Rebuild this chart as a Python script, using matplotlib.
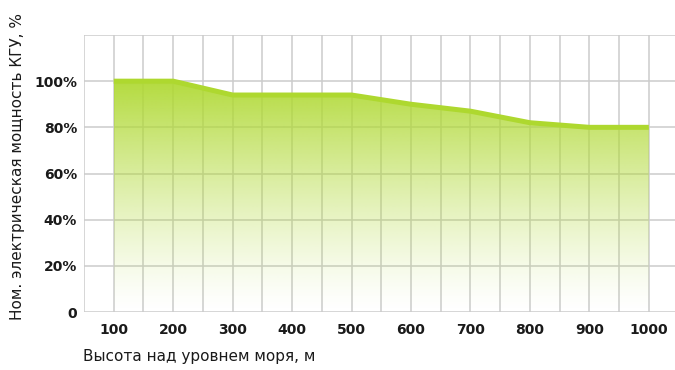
import numpy as np
import matplotlib
matplotlib.use("Agg")
import matplotlib.pyplot as plt
from matplotlib.colors import to_rgb

altitude = [100, 200, 300, 400, 500, 600, 700, 800, 900, 1000]
power_pct = [100, 100, 94, 94, 94, 90, 87, 82, 80, 80]
x_ticks = [100, 200, 300, 400, 500, 600, 700, 800, 900, 1000]
y_ticks = [0, 20, 40, 60, 80, 100]
y_tick_labels = ["0", "20%", "40%", "60%", "80%", "100%"]
x_label = "Высота над уровнем моря, м"
y_label = "Ном. электрическая мощность КГУ, %"

green = "#B0D934"
grid_c = "#CCCCCC"
text_c = "#1A1A1A"

fig = plt.figure(figsize=(6.75, 3.7), dpi=100)
W, H = 675, 370
ax = fig.add_axes([84 / W, (H - 312) / H, 1 - 84 / W, (312 - 35) / H])
ax.set_xlim(50, 1044)
ax.set_ylim(0, 120)

# grid
for gx in np.arange(50, 1045, 50):
    ax.axvline(gx, color=grid_c, lw=1.1, zorder=1)
for gy in np.arange(0, 121, 20):
    ax.axhline(gy, color=grid_c, lw=1.1, zorder=1)

# gradient fill
fill = ax.fill_between(altitude, power_pct, 0, color="none", lw=0, zorder=2)
n = 256
yy = np.linspace(0, 101, n)
alpha = np.clip(yy / 100.0, 0, 1) ** 1.3 * 0.95
rgb = np.array(to_rgb(green))
img = np.zeros((n, 1, 4))
img[:, 0, :3] = rgb
img[:, 0, 3] = alpha
im = ax.imshow(img, extent=[altitude[0], altitude[-1], 0, 101], origin="lower",
               aspect="auto", zorder=2, interpolation="bilinear")
path = fill.get_paths()[0]
im.set_clip_path(path, transform=ax.transData)

ax.plot(altitude, power_pct, color="#AED82F", lw=3.6, solid_capstyle="butt",
        solid_joinstyle="round", zorder=3)

for s in ["right", "top", "left", "bottom"]:
    ax.spines[s].set_visible(False)

ax.set_xticks(x_ticks)
ax.set_xticklabels([str(v) for v in x_ticks])
ax.set_yticks(y_ticks)
ax.set_yticklabels(y_tick_labels)
ax.tick_params(length=0, labelsize=10, colors=text_c, pad=8)
ax.tick_params(axis="y", pad=5)
for lab in ax.get_xticklabels() + ax.get_yticklabels():
    lab.set_fontfamily("DejaVu Sans")
    lab.set_fontweight("bold")

fig.text(18 / W, (H - 166) / H, y_label, rotation=90, ha="center", va="center",
         fontsize=11, color=text_c, family="DejaVu Sans")
fig.text(83 / W, (H - 357) / H, x_label, ha="left", va="center",
         fontsize=11, color=text_c, family="DejaVu Sans")

fig.savefig("out.png", dpi=100)
